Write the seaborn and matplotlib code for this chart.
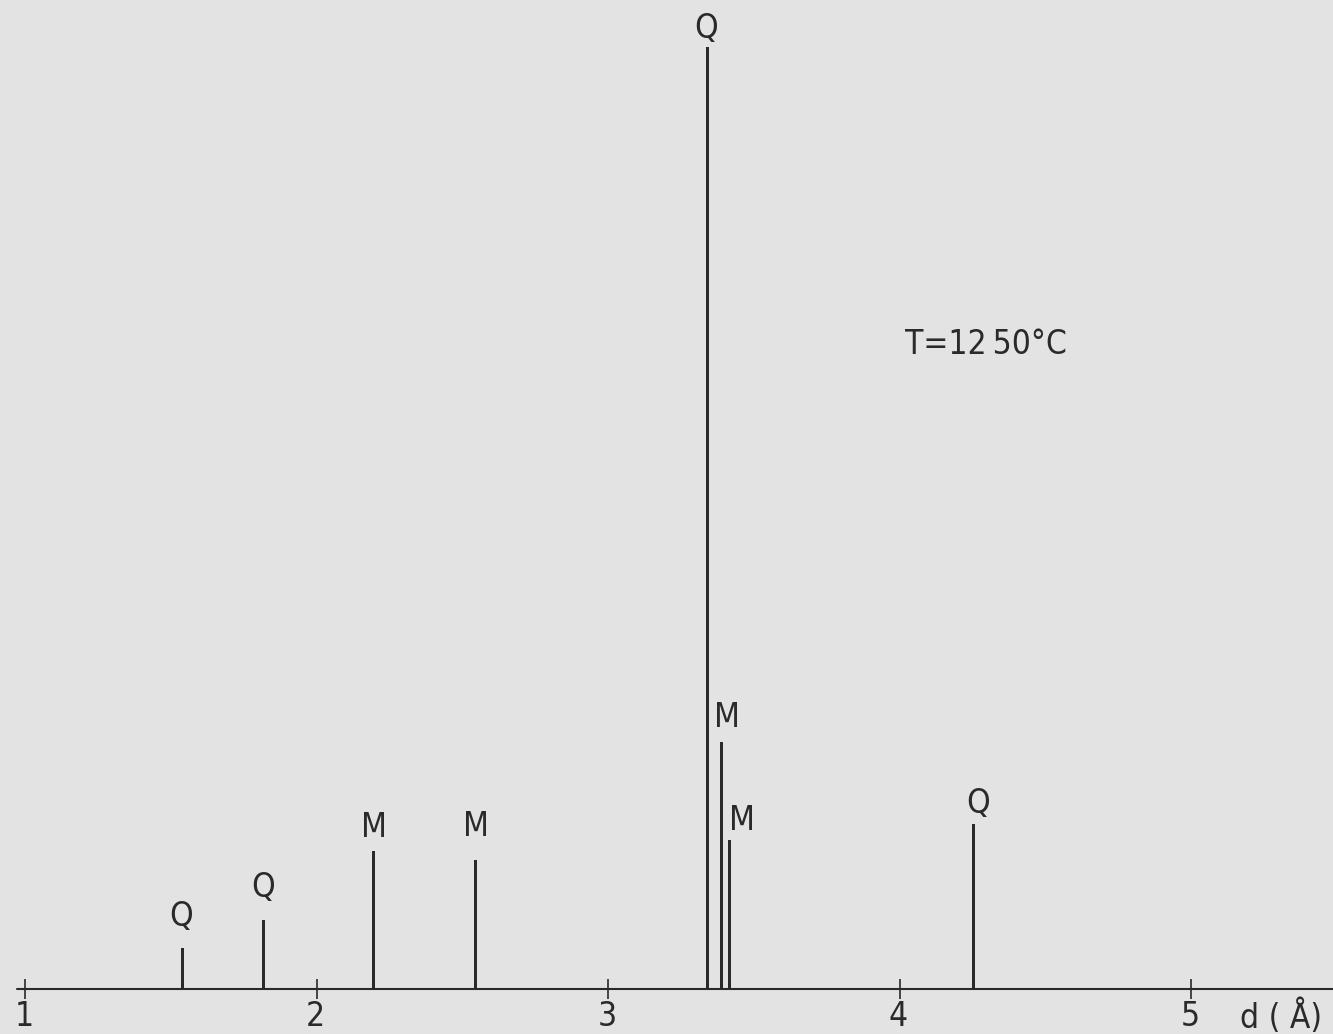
import numpy as np
import pandas as pd
import matplotlib
matplotlib.use("Agg")
import matplotlib.pyplot as plt
import seaborn as sns

# Diffraction lines: d-spacing (Å), relative intensity, phase letter
d_spacing = [1.54, 1.818, 2.196, 2.546, 3.342, 3.388, 3.416, 4.254]
intensity = [4.4, 7.3, 14.6, 13.7, 100.0, 26.2, 15.8, 17.5]
phase = ["Q", "Q", "M", "M", "Q", "M", "M", "Q"]

tick_values = [1, 2, 3, 4, 5]
tick_labels = ["1", "2", "3", "4", "5"]
axis_label = "d ( Å)"
annotation = "T=12\u200950°C"

# label placement relative to each line top (pixels)
label_offsets = [(-1, 31), (0, 33), (0, 24), (0, 33), (-2, 19), (6, 25), (13, 20), (5, 21)]

BG = "#e3e3e3"
INK = "#2a2a2a"

sns.set_theme(style="white", rc={"figure.facecolor": BG, "axes.facecolor": BG})
plt.rcParams["font.family"] = ["DejaVu Sans"]
plt.rcParams["font.stretch"] = "condensed"
plt.rcParams["font.weight"] = "light"

fig = plt.figure(figsize=(13.33, 10.34), dpi=100)
ax = fig.add_axes([0, 0, 1, 1])

df = pd.DataFrame({"d": d_spacing, "I": intensity, "phase": phase})

# stick width about 3 px; seaborn scales width by the smallest gap between positions
px_per_unit = 291.5
min_gap = np.min(np.diff(np.sort(np.unique(df["d"]))))
sns.barplot(data=df, x="d", y="I", native_scale=True, width=(3.0 / px_per_unit) / min_gap,
            color=INK, saturation=1, linewidth=0, errorbar=None, ax=ax)

x_left = 1 - 25 / px_per_unit
x_right = 1 + (1333 - 25) / px_per_unit
px_per_int = 942 / 100.0
ax.set_xlim(x_left, x_right)
ax.set_ylim(-45 / px_per_int, (1034 - 45) / px_per_int)

for s in ax.spines.values():
    s.set_visible(False)
ax.set_xticks([])
ax.set_yticks([])
ax.set_xlabel("")
ax.set_ylabel("")

# baseline and cross ticks
ax.axhline(0, xmin=17 / 1333, xmax=1.0, color=INK, lw=1.5, zorder=1)
ax.plot(tick_values, np.zeros(len(tick_values)), ls="none", marker="|",
        ms=14, mew=1.2, color=INK)

fs = 24
for x, y, p, (dx, dy) in zip(d_spacing, intensity, phase, label_offsets):
    ax.annotate(p, (x, y), xytext=(dx, dy), textcoords="offset pixels",
                ha="center", va="center", fontsize=fs, color=INK)

for v, lab in zip(tick_values, tick_labels):
    ax.annotate(lab, (v, 0), xytext=(-1, -28), textcoords="offset pixels",
                ha="center", va="center", fontsize=fs, color=INK)

ax.annotate(axis_label, (5, 0), xytext=(90, -28), textcoords="offset pixels",
            ha="center", va="center", fontsize=fs, color=INK)

ax.text(1 + (905 - 25) / px_per_unit, (989 - 345) / px_per_int, annotation,
        ha="left", va="center", fontsize=fs, color=INK)

fig.savefig("out.png", dpi=100, facecolor=BG)
